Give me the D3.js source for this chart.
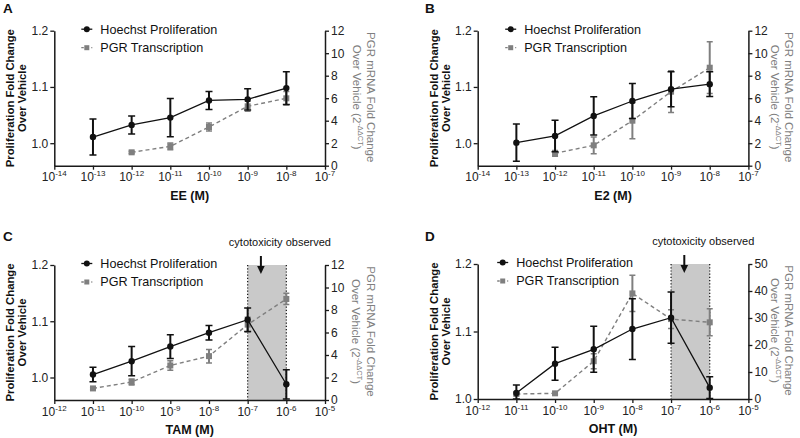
<!DOCTYPE html>
<html>
<head>
<meta charset="utf-8">
<script src="https://cdn.jsdelivr.net/npm/d3@7"></script>
<style>
  html, body { margin: 0; padding: 0; background: #fff; }
  svg { display: block; }
  text { font-family: "Liberation Sans", Arial, sans-serif; }
</style>
</head>
<body>
<svg id="chart" width="800" height="438"></svg>
<script>
// ---------- DATA ----------
const concAB   = [1e-13, 1e-12, 1e-11, 1e-10, 1e-9, 1e-8];
const pgrConcAB = [1e-12, 1e-11, 1e-10, 1e-9, 1e-8];
const concCD   = [1e-11, 1e-10, 1e-9, 1e-8, 1e-7, 1e-6];

// Panel A: EE
const hoechstA    = [1.011, 1.0325, 1.0455, 1.076, 1.078, 1.098];
const hoechstErrA = [0.032, 0.016, 0.034, 0.016, 0.019, 0.029];
const pgrA        = [1.19, 1.72, 3.44, 5.28, 5.99];
const pgrErrA     = [0.1, 0.3, 0.35, 0.45, 0.6];

// Panel B: E2
const hoechstB    = [1.001, 1.013, 1.0485, 1.075, 1.096, 1.105];
const hoechstErrB = [0.033, 0.028, 0.034, 0.031, 0.031, 0.022];
const pgrB        = [1.1, 1.81, 4.0, 6.58, 8.71];
const pgrErrB     = [0.25, 0.75, 1.6, 1.85, 2.3];

// Panel C: TAM
const hoechstC    = [1.0053, 1.029, 1.055, 1.0796, 1.1027, 0.988];
const hoechstErrC = [0.013, 0.026, 0.021, 0.013, 0.021, 0.026];
const pgrC        = [1.03, 1.6, 3.07, 3.9, 6.7, 8.98];
const pgrErrC     = [0.1, 0.27, 0.43, 0.6, 0.65, 0.5];

// Panel D: OHT
const hoechstD    = [1.0089, 1.0523, 1.0736, 1.1037, 1.1205, 1.0168];
const hoechstErrD = [0.012, 0.0245, 0.034, 0.045, 0.038, 0.016];
const pgrD        = [1.85, 2.1, 14.0, 39.1, 29.6, 28.4];
const pgrErrD     = [0.5, 0.5, 2.8, 6.7, 3.5, 5.0];

const xDecadesAB = [-14, -13, -12, -11, -10, -9, -8, -7];
const xDecadesCD = [-12, -11, -10, -9, -8, -7, -6, -5];
const leftTicks  = [1.0, 1.1, 1.2];
const rightTicks12 = [0, 2, 4, 6, 8, 10, 12];
const rightTicks50 = [0, 10, 20, 30, 40, 50];

const legendLabels = ["Hoechst Proliferation", "PGR Transcription"];
const cytoLabel = "cytotoxicity observed";
const cytoRange = [1e-7, 1e-6];
const cytoArrowConc = 2.2e-7;

const panels = [
  { letter: "A", xTitle: "EE (M)",  left: 54.3, top: 30.7, xDec: xDecadesAB, yMin: 0.96, rMax: 12, rTicks: rightTicks12,
    conc: concAB, h: hoechstA, hErr: hoechstErrA, pConc: pgrConcAB, p: pgrA, pErr: pgrErrA, cyto: false, rt1: 46, rt2: 32, letterX: 3, letterY: 13, legX: 27 },
  { letter: "B", xTitle: "E2 (M)",  left: 477.7, top: 30.7, xDec: xDecadesAB, yMin: 0.96, rMax: 12, rTicks: rightTicks12,
    conc: concAB, h: hoechstB, hErr: hoechstErrB, pConc: pgrConcAB, p: pgrB, pErr: pgrErrB, cyto: false, rt1: 41, rt2: 27, letterX: 425, letterY: 13, legX: 27.5 },
  { letter: "C", xTitle: "TAM (M)", left: 54.3, top: 265, xDec: xDecadesCD, yMin: 0.96, rMax: 12, rTicks: rightTicks12,
    conc: concCD, h: hoechstC, hErr: hoechstErrC, pConc: concCD, p: pgrC, pErr: pgrErrC, cyto: true, rt1: 46, rt2: 31, letterX: 3, letterY: 241, legX: 27 },
  { letter: "D", xTitle: "OHT (M)", left: 477.7, top: 264, xDec: xDecadesCD, yMin: 1.0, rMax: 50, rTicks: rightTicks50,
    conc: concCD, h: hoechstD, hErr: hoechstErrD, pConc: concCD, p: pgrD, pErr: pgrErrD, cyto: true, rt1: 41, rt2: 27, letterX: 425, letterY: 241, legX: 19.5 }
];

// ---------- DRAW ----------
const W = 270.7, H = 135;
const AXIS = "#1a1a1a";
const GREY = "#7f7f7f";
const svg = d3.select("#chart");

panels.forEach((P, pi) => {
  svg.append("text").attr("x", P.letterX).attr("y", P.letterY)
    .attr("font-size", 13.5).attr("font-weight", "bold").attr("fill", "#111").text(P.letter);

  const g = svg.append("g").attr("transform", `translate(${P.left},${P.top})`);
  const x = d3.scaleLog().domain([Math.pow(10, P.xDec[0]), Math.pow(10, P.xDec[P.xDec.length - 1])]).range([0, W]);
  const yL = d3.scaleLinear().domain([P.yMin, 1.2]).range([H, 0]);
  const yR = d3.scaleLinear().domain([0, P.rMax]).range([H, 0]);

  if (P.cyto) {
    const x0 = x(cytoRange[0]), x1 = x(cytoRange[1]);
    g.append("rect").attr("x", x0).attr("y", 0).attr("width", x1 - x0).attr("height", H)
      .attr("fill", "#c9c9c9");
    [x0, x1].forEach(xx => g.append("line").attr("x1", xx).attr("x2", xx).attr("y1", 0).attr("y2", H)
      .attr("stroke", "#111").attr("stroke-width", 1.2).attr("stroke-dasharray", "1.2,2"));
    const ax = x(cytoArrowConc);
    g.append("text").attr("x", ax + 19).attr("y", -19).attr("text-anchor", "middle")
      .attr("font-size", 11).attr("fill", "#111").text(cytoLabel);
    g.append("line").attr("x1", ax).attr("x2", ax).attr("y1", -9).attr("y2", 2)
      .attr("stroke", "#111").attr("stroke-width", 2);
    g.append("path").attr("d", `M${ax - 3.8},${1} L${ax + 3.8},${1} L${ax},${9} Z`).attr("fill", "#111");
  }

  const axL = g.append("g").call(d3.axisLeft(yL).tickValues(leftTicks).tickSize(4).tickSizeOuter(0).tickPadding(2)
    .tickFormat(d3.format(".1f")));
  const axB = g.append("g").attr("transform", `translate(0,${H})`)
    .call(d3.axisBottom(x).tickValues(P.xDec.map(d => Math.pow(10, d))).tickSize(4).tickSizeOuter(0).tickFormat(""));
  const axR = g.append("g").attr("transform", `translate(${W},0)`)
    .call(d3.axisRight(yR).tickValues(P.rTicks).tickSize(4).tickSizeOuter(0).tickPadding(2));
  [axL, axB, axR].forEach(a => {
    a.selectAll("path.domain").attr("stroke", AXIS).attr("stroke-width", 1.5);
    a.selectAll(".tick line").attr("stroke", AXIS).attr("stroke-width", 1.3);
    a.selectAll(".tick text").attr("font-size", 12).attr("fill", "#222")
      .attr("font-family", '"Liberation Sans", Arial, sans-serif');
  });

  P.xDec.forEach(dec => {
    const t = g.append("text").attr("x", x(Math.pow(10, dec))).attr("y", H + 15.5)
      .attr("text-anchor", "middle").attr("font-size", 12).attr("fill", "#222");
    t.append("tspan").text("10");
    t.append("tspan").attr("font-size", 8).attr("dy", -5).text(String(dec));
  });

  g.append("text").attr("x", W / 2).attr("y", H + 34).attr("text-anchor", "middle")
    .attr("font-size", 12.5).attr("font-weight", "bold").attr("fill", "#111").text(P.xTitle);

  const lt = g.append("text").attr("transform", `translate(${-44},${H / 2}) rotate(-90)`)
    .attr("text-anchor", "middle").attr("font-size", 11.3).attr("font-weight", "bold").attr("fill", "#111")
    .attr("dominant-baseline", "central");
  lt.append("tspan").attr("x", 0).attr("y", 0).text("Proliferation Fold Change");
  lt.append("tspan").attr("x", 0).attr("y", 12).text("Over Vehicle");

  g.append("text").attr("transform", `translate(${W + P.rt1},${H / 2 - 1}) rotate(90)`)
    .attr("text-anchor", "middle").attr("font-size", 11.5).attr("fill", GREY)
    .attr("dominant-baseline", "central").text("PGR mRNA Fold Change");
  const rt2 = g.append("text").attr("transform", `translate(${W + P.rt2},${H / 2 - 1}) rotate(90)`)
    .attr("text-anchor", "middle").attr("font-size", 11.5).attr("fill", GREY)
    .attr("dominant-baseline", "central");
  rt2.append("tspan").text("Over  Vehicle (2");
  rt2.append("tspan").attr("font-size", 7.5).attr("dy", -4).text("-\u0394\u0394CT");
  rt2.append("tspan").attr("dy", 4).text(")");

  const clipId = "clip" + pi;
  svg.append("clipPath").attr("id", clipId).append("rect").attr("x", -10).attr("y", -10).attr("width", W + 20).attr("height", H + 10);
  const dg = g.append("g").attr("clip-path", `url(#${clipId})`);

  const pData = P.pConc.map((c, i) => ({ c, v: P.p[i], e: P.pErr[i] }));
  const pg = dg.append("g");
  pData.forEach(d => {
    const xx = x(d.c), y0 = yR(Math.max(0, d.v - d.e)), y1 = yR(d.v + d.e);
    pg.append("line").attr("x1", xx).attr("x2", xx).attr("y1", y0).attr("y2", y1).attr("stroke", GREY).attr("stroke-width", 2);
    [y0, y1].forEach(yy => pg.append("line").attr("x1", xx - 3).attr("x2", xx + 3).attr("y1", yy).attr("y2", yy)
      .attr("stroke", GREY).attr("stroke-width", 1.5));
  });
  pg.append("path").datum(pData).attr("fill", "none").attr("stroke", GREY).attr("stroke-width", 1.4)
    .attr("stroke-dasharray", "4,3")
    .attr("d", d3.line().x(d => x(d.c)).y(d => yR(d.v)));
  pg.selectAll("rect.pt").data(pData).join("rect").attr("class", "pt")
    .attr("x", d => x(d.c) - 3).attr("y", d => yR(d.v) - 3).attr("width", 6).attr("height", 6).attr("fill", GREY);

  const hData = P.conc.map((c, i) => ({ c, v: P.h[i], e: P.hErr[i] }));
  const hg = dg.append("g");
  hData.forEach(d => {
    const xx = x(d.c), y0 = yL(Math.max(P.yMin, d.v - d.e)), y1 = yL(d.v + d.e);
    hg.append("line").attr("x1", xx).attr("x2", xx).attr("y1", y0).attr("y2", y1).attr("stroke", "#111").attr("stroke-width", 2);
    [y0, y1].forEach(yy => hg.append("line").attr("x1", xx - 3.5).attr("x2", xx + 3.5).attr("y1", yy).attr("y2", yy)
      .attr("stroke", "#111").attr("stroke-width", 1.5));
  });
  hg.append("path").datum(hData).attr("fill", "none").attr("stroke", "#111").attr("stroke-width", 1.3)
    .attr("d", d3.line().x(d => x(d.c)).y(d => yL(d.v)));
  hg.selectAll("circle").data(hData).join("circle")
    .attr("cx", d => x(d.c)).attr("cy", d => yL(d.v)).attr("r", 3.2).attr("fill", "#111");

  const lg = g.append("g").attr("transform", `translate(${P.legX},0)`);
  const ly = [-1.5, 17];
  lg.append("line").attr("x1", 0).attr("x2", 11).attr("y1", ly[0]).attr("y2", ly[0]).attr("stroke", "#111").attr("stroke-width", 1.3);
  lg.append("circle").attr("cx", 5.5).attr("cy", ly[0]).attr("r", 3).attr("fill", "#111");
  lg.append("text").attr("x", 19).attr("y", ly[0]).attr("dy", "0.35em").attr("font-size", 12.6).attr("fill", "#111").text(legendLabels[0]);
  lg.append("line").attr("x1", 0).attr("x2", 11).attr("y1", ly[1]).attr("y2", ly[1]).attr("stroke", GREY).attr("stroke-width", 1.3)
    .attr("stroke-dasharray", "2.5,2.5");
  lg.append("rect").attr("x", 3).attr("y", ly[1] - 2.5).attr("width", 5).attr("height", 5).attr("fill", GREY);
  lg.append("text").attr("x", 19).attr("y", ly[1]).attr("dy", "0.35em").attr("font-size", 12.6).attr("fill", "#111").text(legendLabels[1]);
});
</script>
</body>
</html>
